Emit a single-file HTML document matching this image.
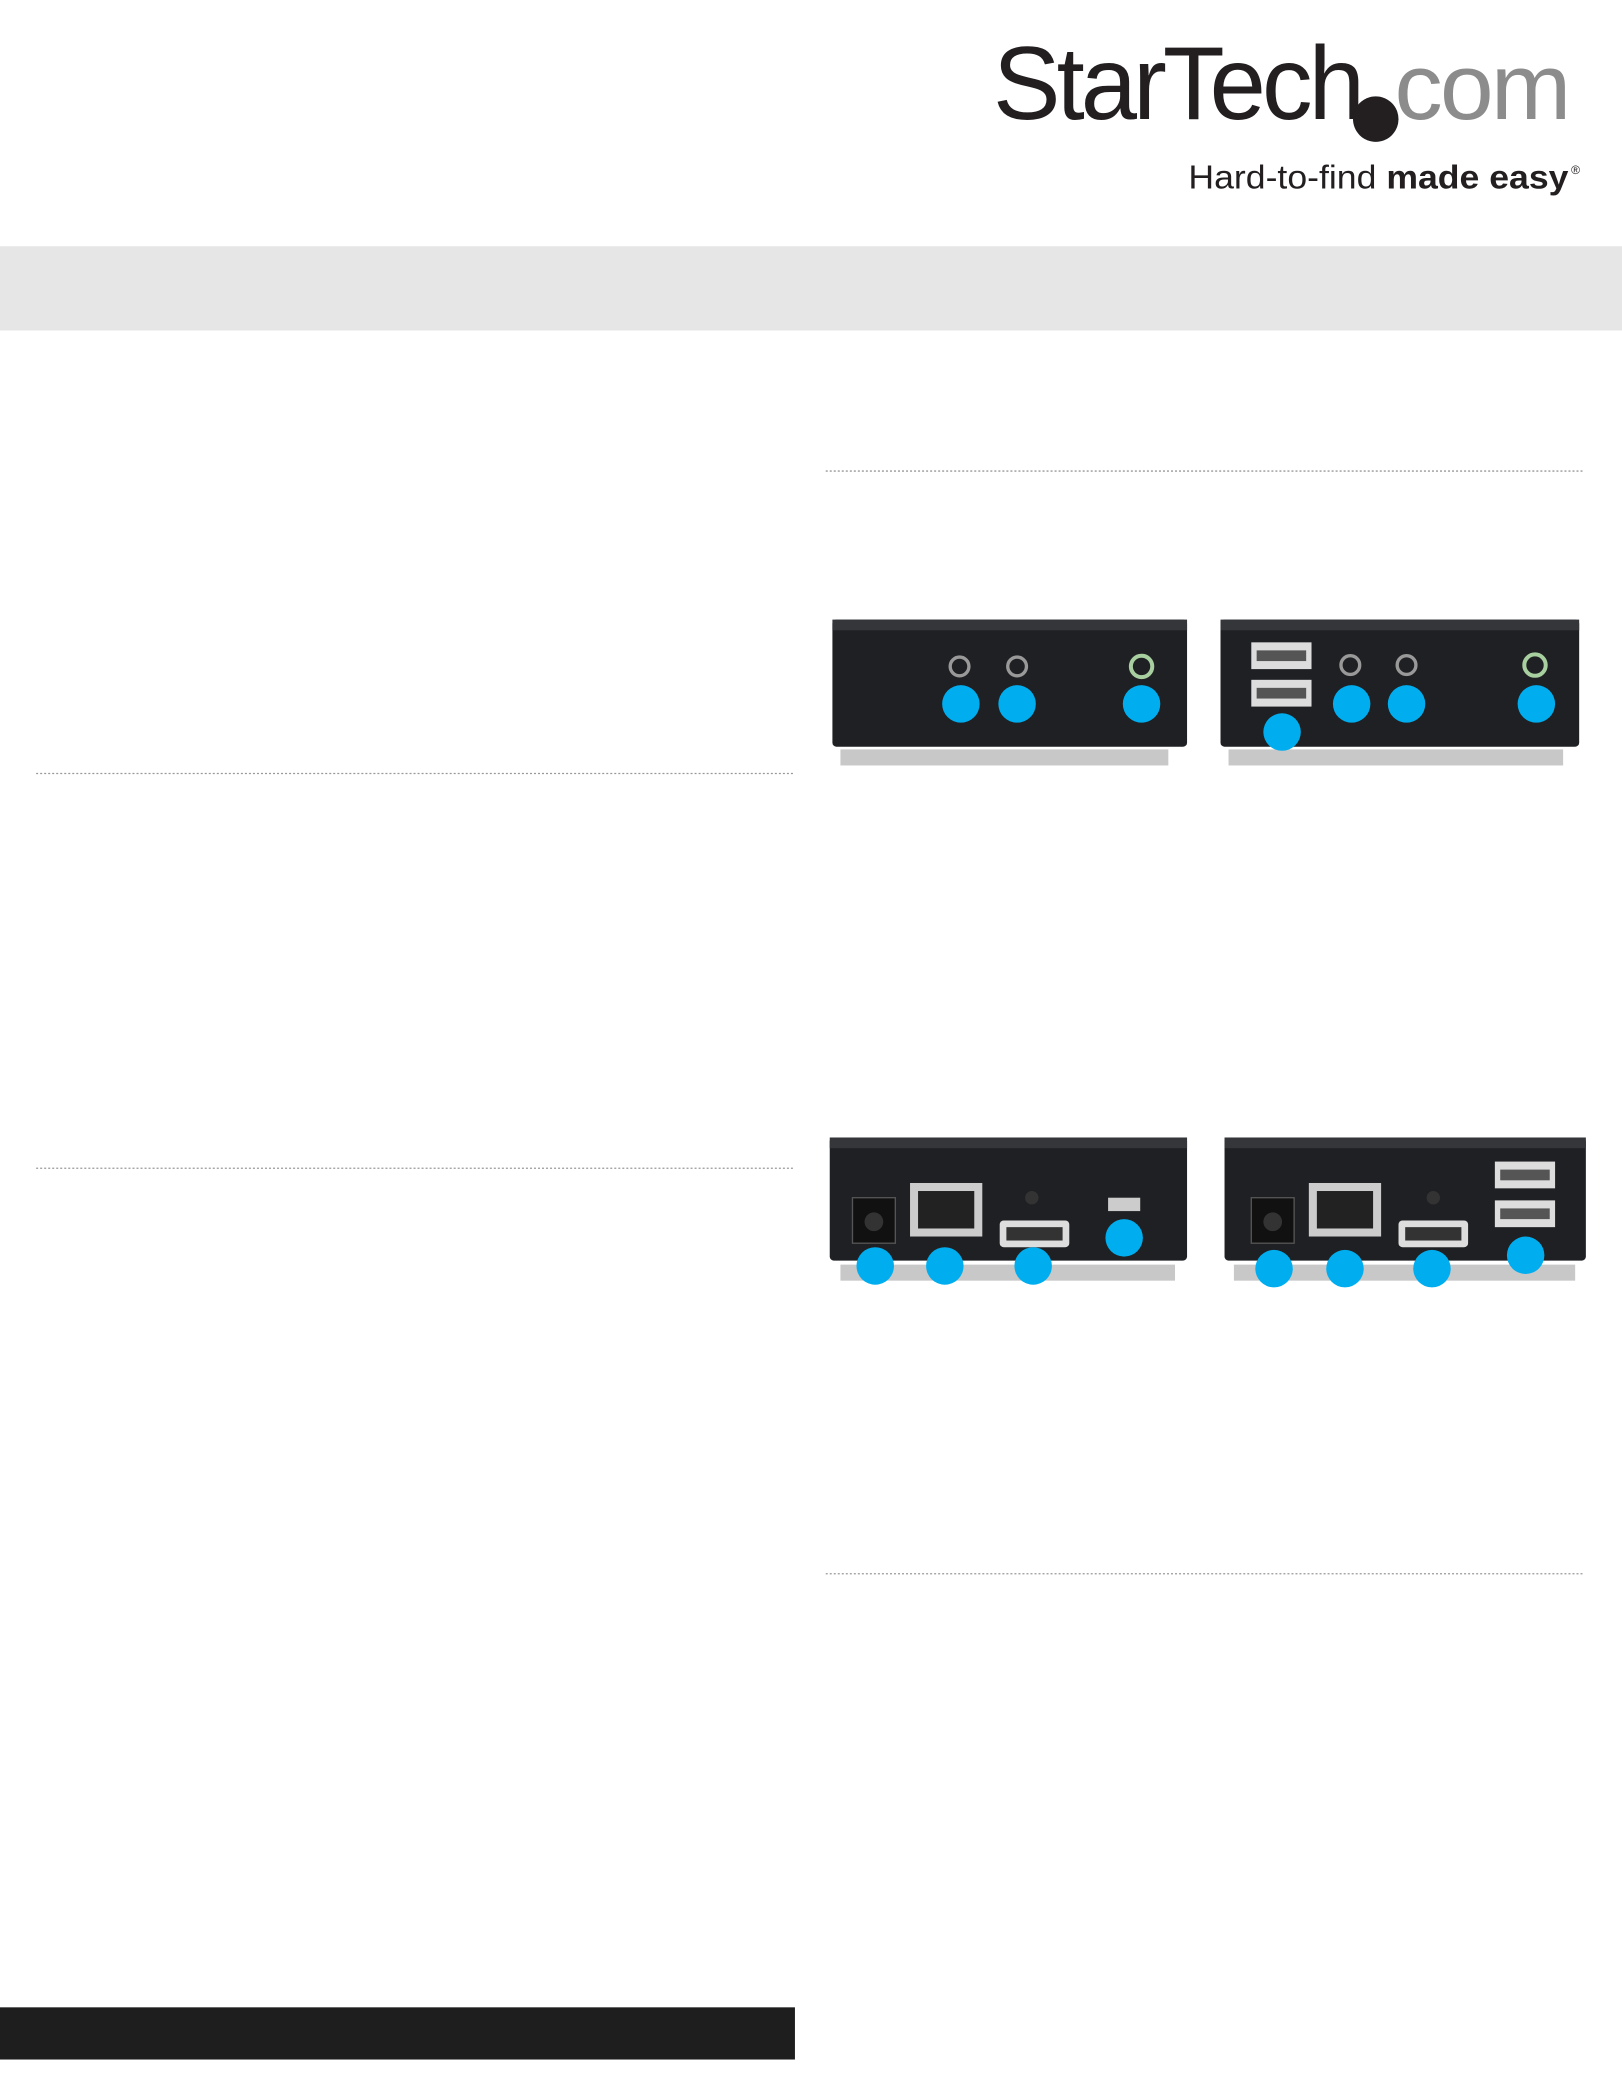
<!DOCTYPE html>
<html><head><meta charset="utf-8"><style>
html,body{margin:0;padding:0;background:#fff;width:1622px;height:2099px;overflow:hidden}
svg{display:block}
</style></head><body>
<svg width="1622" height="2099" viewBox="0 0 1212 1568.5" preserveAspectRatio="none" xmlns="http://www.w3.org/2000/svg" font-family="Liberation Sans, sans-serif">
<rect width="1212" height="1568.5" fill="#fff"/>
<text x="742" y="89" font-size="78" fill="#231f20" letter-spacing="-3" textLength="275" lengthAdjust="spacingAndGlyphs">StarTech</text>
<circle cx="1028" cy="89" r="17" fill="#231f20"/>
<text x="1042" y="89" font-size="70" fill="#8c8c8c" letter-spacing="-2" textLength="130" lengthAdjust="spacingAndGlyphs">com</text>
<text x="888" y="141" font-size="25" fill="#231f20" textLength="284" lengthAdjust="spacingAndGlyphs">Hard-to-find <tspan font-weight="bold">made easy</tspan></text>
<text x="1174" y="130" font-size="9" fill="#231f20">®</text>
<rect x="0" y="184" width="1212" height="63" fill="#e6e6e6"/>
<g stroke="#999" stroke-width="1" stroke-dasharray="1.5 1.5">
<line x1="617" y1="352" x2="1184" y2="352"/>
<line x1="27" y1="578" x2="594" y2="578"/>
<line x1="27" y1="873" x2="594" y2="873"/>
<line x1="617" y1="1176" x2="1184" y2="1176"/>
</g>
<rect x="0" y="1500" width="594" height="39" fill="#1e1e1e"/>
<g>
<rect x="628" y="560" width="245" height="12" fill="#c8c8c8"/>
<rect x="622" y="463" width="265" height="95" rx="3" fill="#1f2023"/>
<rect x="622" y="463" width="265" height="8" fill="#34363a"/>
<circle cx="717" cy="498" r="7" fill="none" stroke="#999" stroke-width="2.5"/>
<circle cx="760" cy="498" r="7" fill="none" stroke="#999" stroke-width="2.5"/>
<circle cx="853" cy="498" r="8" fill="none" stroke="#a8cfa0" stroke-width="3"/>
<rect x="918" y="560" width="250" height="12" fill="#c8c8c8"/>
<rect x="912" y="463" width="268" height="95" rx="3" fill="#1f2023"/>
<rect x="912" y="463" width="268" height="8" fill="#34363a"/>
<rect x="935" y="480" width="45" height="20" fill="#ddd"/><rect x="939" y="486" width="37" height="8" fill="#555"/>
<rect x="935" y="508" width="45" height="20" fill="#ddd"/><rect x="939" y="514" width="37" height="8" fill="#555"/>
<circle cx="1009" cy="497" r="7" fill="none" stroke="#999" stroke-width="2.5"/>
<circle cx="1051" cy="497" r="7" fill="none" stroke="#999" stroke-width="2.5"/>
<circle cx="1147" cy="497" r="8" fill="none" stroke="#a8cfa0" stroke-width="3"/>
</g>
<g>
<rect x="628" y="945" width="250" height="12" fill="#c8c8c8"/>
<rect x="620" y="850" width="267" height="92" rx="3" fill="#1f2023"/>
<rect x="620" y="850" width="267" height="8" fill="#34363a"/>
<rect x="637" y="895" width="32" height="34" fill="#111" stroke="#555"/>
<circle cx="653" cy="913" r="7" fill="#333"/>
<rect x="680" y="884" width="54" height="40" fill="#ccc"/><rect x="686" y="890" width="42" height="28" fill="#222"/>
<rect x="747" y="912" width="52" height="20" rx="3" fill="#ddd"/><rect x="752" y="917" width="42" height="10" fill="#333"/>
<circle cx="771" cy="895" r="5" fill="#333"/>
<rect x="828" y="895" width="24" height="10" fill="#ccc"/>
<rect x="922" y="945" width="255" height="12" fill="#c8c8c8"/>
<rect x="915" y="850" width="270" height="92" rx="3" fill="#1f2023"/>
<rect x="915" y="850" width="270" height="8" fill="#34363a"/>
<rect x="935" y="895" width="32" height="34" fill="#111" stroke="#555"/>
<circle cx="951" cy="913" r="7" fill="#333"/>
<rect x="978" y="884" width="54" height="40" fill="#ccc"/><rect x="984" y="890" width="42" height="28" fill="#222"/>
<rect x="1045" y="912" width="52" height="20" rx="3" fill="#ddd"/><rect x="1050" y="917" width="42" height="10" fill="#333"/>
<circle cx="1071" cy="895" r="5" fill="#333"/>
<rect x="1117" y="868" width="45" height="20" fill="#ddd"/><rect x="1121" y="874" width="37" height="8" fill="#555"/>
<rect x="1117" y="897" width="45" height="20" fill="#ddd"/><rect x="1121" y="903" width="37" height="8" fill="#555"/>
</g>
<g fill="#00aeef">
<circle cx="718" cy="526" r="14"/><circle cx="760" cy="526" r="14"/><circle cx="853" cy="526" r="14"/>
<circle cx="958" cy="547" r="14"/><circle cx="1010" cy="526" r="14"/><circle cx="1051" cy="526" r="14"/><circle cx="1148" cy="526" r="14"/>
<circle cx="654" cy="946" r="14"/><circle cx="706" cy="946" r="14"/><circle cx="772" cy="946" r="14"/><circle cx="840" cy="925" r="14"/>
<circle cx="952" cy="948" r="14"/><circle cx="1005" cy="948" r="14"/><circle cx="1070" cy="948" r="14"/><circle cx="1140" cy="938" r="14"/>
</g>
</svg>
</body></html>
